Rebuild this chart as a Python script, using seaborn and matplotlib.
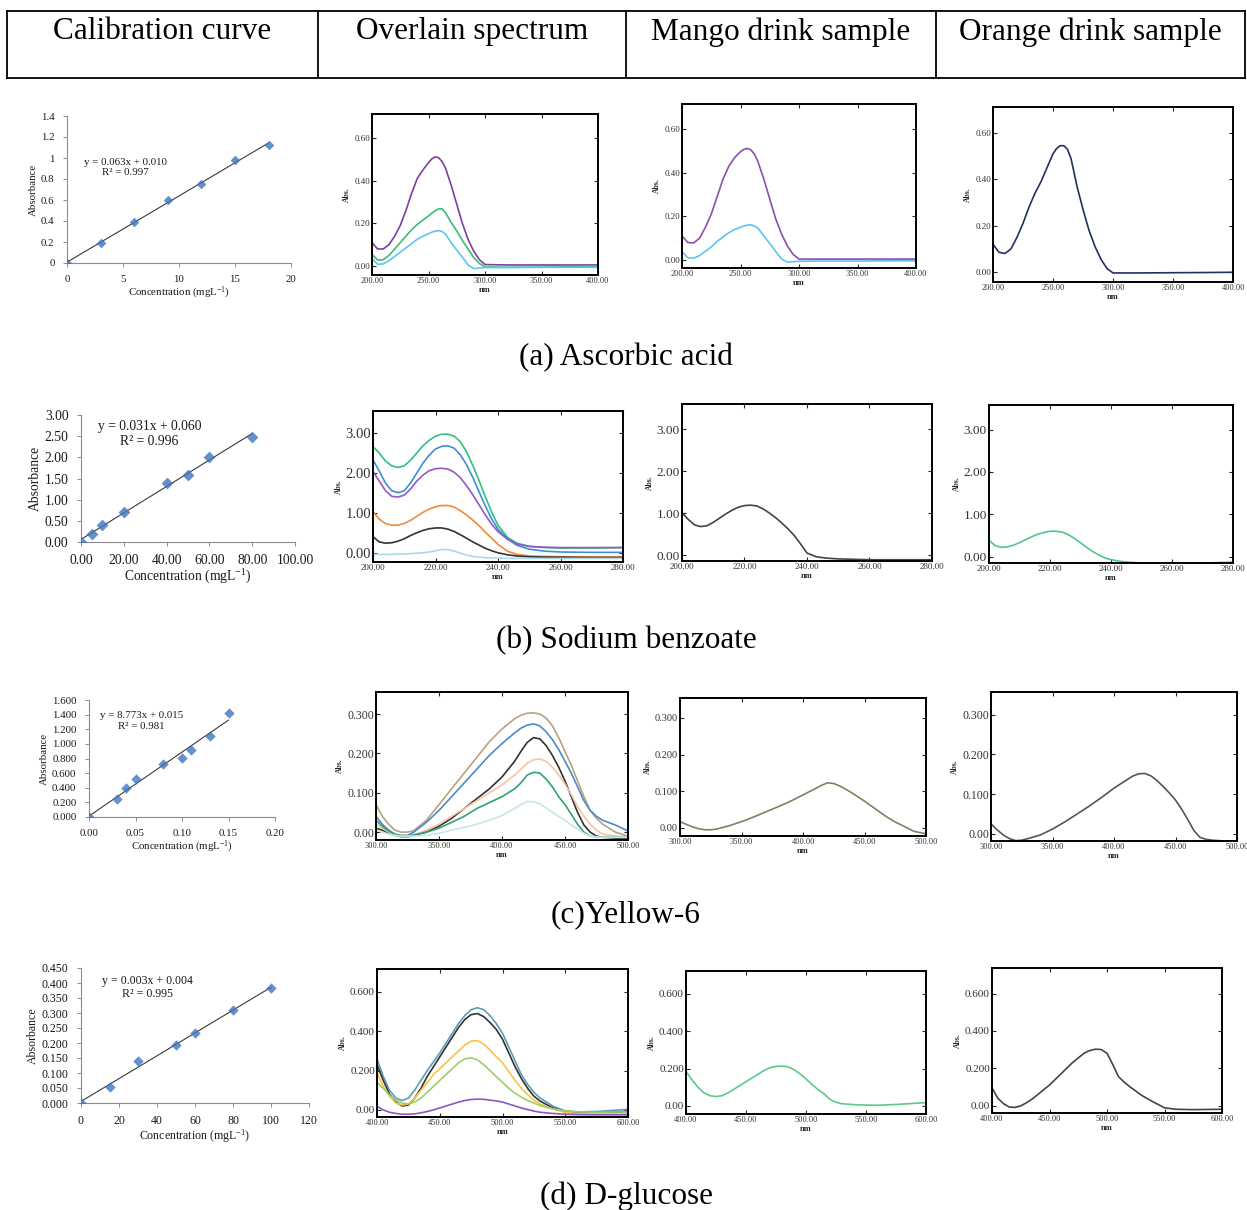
import numpy as np
import pandas as pd
import seaborn as sns
import matplotlib.pyplot as plt

sns.set_style("ticks")
plt.rcParams['font.family'] = ['Liberation Serif', 'DejaVu Serif']
plt.rcParams['mathtext.fontset'] = 'custom'
plt.rcParams['mathtext.rm'] = 'Liberation Serif'
plt.rcParams['mathtext.default'] = 'regular'
plt.rcParams['text.color'] = 'black'

W, H = 1247, 1210

# ---------------- calibration data ----------------
cal_a_x = [0, 3, 6, 9, 12, 15, 18]
cal_a_y = [0.0, 0.19, 0.39, 0.60, 0.75, 0.98, 1.12]
cal_b_x = [0, 5, 10, 20, 40, 50, 60, 80]
cal_b_y = [0.0, 0.20, 0.40, 0.70, 1.40, 1.59, 2.00, 2.49]
cal_c_x = [0, 0.03, 0.04, 0.05, 0.08, 0.10, 0.11, 0.13, 0.15]
cal_c_y = [0.0, 0.25, 0.40, 0.52, 0.72, 0.81, 0.92, 1.11, 1.42]
cal_d_x = [0, 15, 30, 50, 60, 80, 100]
cal_d_y = [0.0, 0.053, 0.140, 0.192, 0.234, 0.310, 0.382]

# ---------------- (a) ascorbic acid spectra ----------------
wl_a = [200, 205, 210, 215, 220, 225, 230, 235, 240, 245, 250, 253, 256, 259, 262,
        265, 270, 275, 280, 285, 290, 295, 300, 320, 350, 380, 400]
a_purple = [0.11, 0.08, 0.08, 0.10, 0.14, 0.19, 0.26, 0.34, 0.41, 0.45, 0.485, 0.503, 0.512, 0.508, 0.49,
            0.46, 0.38, 0.29, 0.20, 0.125, 0.07, 0.03, 0.007, 0.005, 0.005, 0.005, 0.005]
a_green = [0.055, 0.028, 0.03, 0.05, 0.08, 0.11, 0.14, 0.17, 0.195, 0.215, 0.235, 0.248, 0.26, 0.268, 0.268,
           0.25, 0.205, 0.165, 0.12, 0.08, 0.04, 0.012, -0.004, -0.006, -0.005, -0.003, 0.0]
a_cyan = [0.035, 0.008, 0.01, 0.025, 0.045, 0.065, 0.085, 0.105, 0.125, 0.14, 0.152, 0.159, 0.164, 0.166, 0.162,
          0.15, 0.11, 0.075, 0.042, 0.005, -0.012, -0.009, -0.007, -0.007, -0.006, -0.006, -0.006]
a_mango_purple = [0.11, 0.08, 0.078, 0.10, 0.15, 0.21, 0.29, 0.37, 0.43, 0.47, 0.497, 0.508, 0.512, 0.505, 0.485,
                  0.45, 0.37, 0.28, 0.19, 0.12, 0.065, 0.025, 0.004, 0.004, 0.004, 0.004, 0.004]
a_mango_cyan = [0.038, 0.01, 0.008, 0.02, 0.04, 0.06, 0.085, 0.105, 0.125, 0.14, 0.15, 0.156, 0.16, 0.161, 0.156,
                0.145, 0.11, 0.075, 0.04, 0.005, -0.01, -0.008, -0.006, -0.005, -0.005, -0.004, -0.004]
a_orange_navy = [0.12, 0.085, 0.08, 0.10, 0.15, 0.21, 0.28, 0.34, 0.39, 0.45, 0.51, 0.533, 0.545, 0.545, 0.53,
                 0.49, 0.37, 0.27, 0.18, 0.11, 0.055, 0.015, -0.004, -0.004, -0.003, -0.002, -0.001]

# ---------------- (b) sodium benzoate spectra ----------------
wl_b = [200, 202, 204, 206, 208, 210, 212, 214, 216, 218, 220, 222, 224, 226, 228,
        230, 232, 234, 236, 238, 240, 243, 246, 250, 255, 260, 270, 280]
b_green = [2.66, 2.50, 2.30, 2.18, 2.14, 2.18, 2.32, 2.50, 2.68, 2.82, 2.92, 2.97, 2.97, 2.92, 2.78,
           2.52, 2.18, 1.80, 1.40, 1.02, 0.70, 0.40, 0.25, 0.17, 0.14, 0.13, 0.13, 0.14]
b_blue = [2.33, 2.05, 1.75, 1.56, 1.51, 1.56, 1.75, 2.00, 2.25, 2.45, 2.60, 2.67, 2.68, 2.62, 2.45,
          2.20, 1.88, 1.52, 1.17, 0.85, 0.60, 0.36, 0.20, 0.10, 0.05, 0.03, 0.02, 0.02]
b_purple = [2.04, 1.80, 1.56, 1.42, 1.40, 1.45, 1.60, 1.80, 1.95, 2.06, 2.11, 2.12, 2.10, 2.02, 1.88,
            1.68, 1.45, 1.20, 0.95, 0.72, 0.54, 0.35, 0.23, 0.17, 0.15, 0.14, 0.14, 0.14]
b_orange = [1.04, 0.85, 0.74, 0.70, 0.70, 0.74, 0.82, 0.92, 1.02, 1.10, 1.16, 1.19, 1.19, 1.15, 1.06,
            0.95, 0.82, 0.68, 0.52, 0.37, 0.22, 0.05, -0.03, -0.07, -0.08, -0.09, -0.09, -0.09]
b_black = [0.41, 0.28, 0.25, 0.26, 0.30, 0.36, 0.44, 0.51, 0.57, 0.61, 0.63, 0.63, 0.60, 0.54, 0.46,
           0.37, 0.28, 0.20, 0.12, 0.06, 0.01, -0.04, -0.07, -0.09, -0.10, -0.10, -0.11, -0.11]
b_light = [-0.03, -0.03, -0.03, -0.03, -0.02, -0.02, -0.01, 0.0, 0.01, 0.03, 0.06, 0.09, 0.09, 0.05, 0.0,
           -0.05, -0.08, -0.10, -0.11, -0.12, -0.12, -0.13, -0.13, -0.13, -0.13, -0.13, -0.13, -0.13]
b_mango = [1.01, 0.85, 0.72, 0.68, 0.70, 0.78, 0.88, 0.98, 1.07, 1.14, 1.18, 1.19, 1.17, 1.10, 1.00,
           0.89, 0.76, 0.62, 0.46, 0.26, 0.05, -0.04, -0.07, -0.09, -0.10, -0.11, -0.11, -0.11]
b_orange_green = [0.39, 0.26, 0.22, 0.23, 0.27, 0.33, 0.40, 0.47, 0.53, 0.57, 0.60, 0.60, 0.58, 0.52, 0.43,
                  0.33, 0.22, 0.12, 0.04, -0.03, -0.07, -0.11, -0.13, -0.15, -0.16, -0.16, -0.15, -0.13]

# ---------------- (c) yellow-6 spectra ----------------
wl_c = [300, 305, 310, 315, 320, 325, 330, 340, 350, 360, 370, 380, 390, 400, 410, 415, 420,
        425, 430, 435, 440, 445, 450, 455, 460, 465, 470, 475, 480, 490, 500]
c_tan = [0.07, 0.04, 0.02, 0.005, 0.0, 0.0, 0.004, 0.03, 0.07, 0.11, 0.15, 0.19, 0.23, 0.262, 0.288, 0.297, 0.302,
         0.303, 0.30, 0.29, 0.27, 0.24, 0.205, 0.17, 0.13, 0.09, 0.055, 0.035, 0.02, 0.0, -0.01]
c_blue = [0.04, 0.02, 0.005, -0.005, -0.008, -0.008, 0.0, 0.025, 0.055, 0.09, 0.125, 0.16, 0.195, 0.225, 0.252,
          0.264, 0.272, 0.275, 0.27, 0.255, 0.235, 0.21, 0.18, 0.15, 0.115, 0.08, 0.055, 0.04, 0.03, 0.018, 0.003]
c_black = [0.01, 0.005, -0.003, -0.008, -0.012, -0.012, -0.008, 0.0, 0.015, 0.035, 0.06, 0.085, 0.11, 0.14,
           0.18, 0.205, 0.228, 0.24, 0.237, 0.22, 0.195, 0.165, 0.13, 0.09, 0.05, 0.018, 0.0, -0.01, -0.013,
           -0.015, -0.015]
c_peach = [0.02, 0.01, 0.0, -0.008, -0.012, -0.012, -0.008, 0.005, 0.02, 0.04, 0.06, 0.08, 0.10, 0.12, 0.145,
           0.16, 0.175, 0.184, 0.186, 0.18, 0.165, 0.145, 0.122, 0.095, 0.065, 0.04, 0.02, 0.005, -0.005,
           -0.01, -0.012]
c_green = [0.03, 0.015, 0.003, -0.006, -0.01, -0.01, -0.007, 0.0, 0.01, 0.025, 0.04, 0.06, 0.075, 0.09, 0.11,
           0.125, 0.145, 0.152, 0.15, 0.135, 0.115, 0.09, 0.07, 0.045, 0.02, 0.0, -0.01, -0.012, -0.013,
           -0.013, -0.013]
c_cyan = [0.005, 0.0, -0.005, -0.008, -0.01, -0.01, -0.01, -0.008, -0.003, 0.005, 0.012, 0.02, 0.03, 0.042,
          0.06, 0.07, 0.078, 0.077, 0.072, 0.062, 0.05, 0.04, 0.03, 0.018, 0.008, -0.003, -0.01, -0.012,
          -0.013, -0.013, -0.013]
c_mango = [0.017, 0.01, 0.003, -0.002, -0.005, -0.005, -0.003, 0.006, 0.017, 0.03, 0.044, 0.058, 0.073, 0.09,
           0.107, 0.116, 0.123, 0.121, 0.114, 0.105, 0.095, 0.084, 0.073, 0.061, 0.049, 0.037, 0.026, 0.016,
           0.008, -0.009, -0.016]
c_orange = [0.025, 0.01, -0.003, -0.012, -0.017, -0.016, -0.012, -0.003, 0.012, 0.03, 0.05, 0.07, 0.092, 0.115,
            0.135, 0.145, 0.151, 0.152, 0.146, 0.134, 0.119, 0.103, 0.085, 0.062, 0.036, 0.008, -0.009, -0.014,
            -0.016, -0.018, -0.018]

# ---------------- (d) D-glucose spectra ----------------
wl_d = [400, 405, 410, 415, 420, 425, 430, 435, 440, 445, 450, 455, 460, 465, 470, 475, 480,
        485, 490, 495, 500, 505, 510, 515, 520, 525, 530, 540, 550, 560, 575, 600]
d_teal = [0.26, 0.17, 0.10, 0.06, 0.048, 0.06, 0.10, 0.15, 0.20, 0.245, 0.29, 0.34, 0.39, 0.44, 0.48, 0.51, 0.52,
          0.51, 0.48, 0.44, 0.39, 0.32, 0.25, 0.18, 0.13, 0.09, 0.06, 0.02, -0.005, -0.01, -0.008, 0.003]
d_black = [0.23, 0.15, 0.08, 0.04, 0.02, 0.025, 0.06, 0.11, 0.17, 0.22, 0.27, 0.32, 0.37, 0.42, 0.46, 0.485,
           0.49, 0.475, 0.445, 0.41, 0.36, 0.29, 0.22, 0.16, 0.11, 0.07, 0.045, 0.01, -0.01, -0.015, -0.015,
           -0.008]
d_yellow = [0.19, 0.12, 0.07, 0.035, 0.025, 0.03, 0.06, 0.10, 0.14, 0.18, 0.21, 0.24, 0.27, 0.30, 0.33, 0.35,
            0.353, 0.335, 0.305, 0.27, 0.24, 0.195, 0.15, 0.11, 0.078, 0.05, 0.03, 0.005, -0.012, -0.018,
            -0.02, -0.02]
d_green = [0.14, 0.11, 0.075, 0.05, 0.035, 0.03, 0.04, 0.06, 0.09, 0.12, 0.15, 0.18, 0.21, 0.24, 0.26, 0.265,
           0.255, 0.23, 0.20, 0.17, 0.14, 0.11, 0.085, 0.065, 0.048, 0.035, 0.022, 0.005, -0.005, -0.01,
           -0.012, -0.01]
d_purple = [0.018, 0.0, -0.012, -0.018, -0.022, -0.022, -0.02, -0.015, -0.008, 0.0, 0.01, 0.02, 0.03, 0.04,
            0.048, 0.053, 0.055, 0.054, 0.05, 0.046, 0.04, 0.03, 0.02, 0.01, 0.002, -0.006, -0.012, -0.018,
            -0.022, -0.024, -0.025, -0.025]
d_mango = [0.185, 0.14, 0.10, 0.07, 0.055, 0.05, 0.055, 0.07, 0.09, 0.11, 0.13, 0.15, 0.17, 0.19, 0.205, 0.212,
           0.214, 0.21, 0.195, 0.172, 0.145, 0.115, 0.088, 0.065, 0.035, 0.02, 0.012, 0.007, 0.005, 0.004,
           0.008, 0.018]
d_orange = [0.095, 0.04, 0.01, -0.008, -0.01, -0.002, 0.015, 0.035, 0.06, 0.085, 0.11, 0.14, 0.17, 0.20, 0.23,
            0.255, 0.28, 0.295, 0.302, 0.30, 0.28, 0.22, 0.155, 0.125, 0.10, 0.078, 0.055, 0.02, -0.012,
            -0.02, -0.022, -0.02]

headers = ["Calibration curve", "Overlain spectrum", "Mango drink sample", "Orange drink sample"]
captions = ["(a) Ascorbic acid", "(b) Sodium benzoate", "(c)Yellow-6", "(d) D-glucose"]

fig = plt.figure(figsize=(W / 100, H / 100), dpi=100)


def add_ax(x0, y0, x1, y1):
    return fig.add_axes([x0 / W, 1 - y1 / H, (x1 - x0) / W, (y1 - y0) / H])


# header table
hax = add_ax(7, 11, 1245, 78)
hax.set_xlim(7, 1245)
hax.set_ylim(0, 1)
hax.set_xticks([])
hax.set_yticks([])
for s in hax.spines.values():
    s.set_color('black')
    s.set_linewidth(1.3)
for xd in [318, 626, 936]:
    hax.axvline(xd, color='black', lw=1.3)
for xc, txt in zip([162, 472, 781, 1090], headers):
    hax.text(xc, 0.69, txt, ha='center', va='center', fontsize=22.5, color='black')

for yc, txt in zip([358, 641, 915, 1196], captions):
    fig.text(626 / W, 1 - yc / H, txt, ha='center', va='center', fontsize=22.5, color='black')


def cal_plot(box, xs, ys, xlim, ylim, xticks, yticks, xfmt, yfmt, fs, ms, eq, eqpos):
    ax = add_ax(*box)
    sns.regplot(x=xs, y=ys, ax=ax, ci=None, marker='D',
                scatter_kws=dict(color='#3f74bd', s=ms, zorder=3, linewidths=0),
                line_kws=dict(color='#3a3a3a', lw=0.8, zorder=2))
    ax.set_xlim(xlim)
    ax.set_ylim(ylim)
    ax.set_xticks(xticks)
    ax.set_yticks(yticks)
    ax.set_xticklabels([xfmt(t) for t in xticks], fontsize=fs)
    ax.set_yticklabels([yfmt(t) for t in yticks], fontsize=fs)
    sns.despine(ax=ax)
    for s in ['left', 'bottom']:
        ax.spines[s].set_color('#8c8c8c')
        ax.spines[s].set_linewidth(0.8)
    ax.tick_params(direction='out', length=3, width=0.7, color='#8c8c8c', pad=6, labelcolor='#1a1a1a')
    ax.set_xlabel('Concentration (mgL$^{-1}$)', fontsize=fs, labelpad=0, color='#1a1a1a')
    ax.set_ylabel('Absorbance', fontsize=fs, labelpad=2, color='#1a1a1a')
    ax.text(eqpos[0], eqpos[1], eq, transform=ax.transAxes, ha='center', va='center',
            fontsize=fs, color='#1a1a1a', multialignment='center')
    ax.patch.set_alpha(0)
    return ax


cal_plot((67, 116, 291, 263), cal_a_x, cal_a_y, (0, 20), (0, 1.4), [0, 5, 10, 15, 20],
         [0, 0.2, 0.4, 0.6, 0.8, 1.0, 1.2, 1.4], lambda t: f"{t:g}", lambda t: f"{t:g}",
         7.8, 24, "y = 0.063x + 0.010\nR² = 0.997", (0.26, 0.65))
cal_plot((81, 415, 295, 542), cal_b_x, cal_b_y, (0, 100), (0, 3.0), [0, 20, 40, 60, 80, 100],
         [0, 0.5, 1.0, 1.5, 2.0, 2.5, 3.0], lambda t: f"{t:.2f}", lambda t: f"{t:.2f}",
         9.8, 36, "y = 0.031x + 0.060\nR² = 0.996", (0.32, 0.85))
cal_plot((89, 700, 275, 817), cal_c_x, cal_c_y, (0, 0.2), (0, 1.6), [0, 0.05, 0.10, 0.15, 0.20],
         [0, 0.2, 0.4, 0.6, 0.8, 1.0, 1.2, 1.4, 1.6], lambda t: f"{t:.2f}", lambda t: f"{t:.3f}",
         7.8, 28, "y = 8.773x + 0.015\nR² = 0.981", (0.28, 0.82))
cal_plot((81, 968, 309, 1103), cal_d_x, cal_d_y, (0, 120), (0, 0.45), [0, 20, 40, 60, 80, 100, 120],
         [0, 0.05, 0.1, 0.15, 0.2, 0.25, 0.3, 0.35, 0.4, 0.45], lambda t: f"{t:g}", lambda t: f"{t:.3f}",
         8.6, 28, "y = 0.003x + 0.004\nR² = 0.995", (0.29, 0.855))


def spec_plot(box, wl, curves, xlim, ylim, xticks, yticks, yfmt, yfs, xfs=6):
    ax = add_ax(*box)
    for vals, col in curves:
        sns.lineplot(x=wl, y=vals, ax=ax, color=col, lw=1.2)
    ax.set_xlim(xlim)
    ax.set_ylim(ylim)
    ax.set_xticks(xticks)
    ax.set_yticks(yticks)
    ax.set_xticklabels([f"{t:.2f}" for t in xticks], fontsize=xfs)
    ax.set_yticklabels(["0.00" if t == 0 else yfmt.format(t) for t in yticks], fontsize=yfs)
    ax.tick_params(direction='in', top=True, right=True, length=3, width=0.8, pad=1.5,
                   labelcolor='#333333')
    for s in ax.spines.values():
        s.set_color('black')
        s.set_linewidth(1.4)
    ax.set_xlabel('nm', fontsize=6, fontweight='bold', labelpad=1)
    ax.set_ylabel('Abs.', fontsize=5.5, fontweight='bold', labelpad=2)
    return ax


# row (a)
xt_a = [200, 250, 300, 350, 400]
yt_a = [0, 0.2, 0.4, 0.6]
spec_plot((372, 114, 598, 275), wl_a, [(a_purple, '#7e3f9f'), (a_green, '#3dba78'), (a_cyan, '#5cc6f0')],
          (200, 400), (-0.042, 0.713), xt_a, yt_a, "{:.2f}", 6.5)
spec_plot((682, 104, 916, 268), wl_a, [(a_mango_purple, '#8a4fb0'), (a_mango_cyan, '#5cc6f0')],
          (200, 400), (-0.037, 0.716), xt_a, yt_a, "{:.2f}", 6.5)
spec_plot((993, 107, 1233, 282), wl_a, [(a_orange_navy, '#22305e')],
          (200, 400), (-0.043, 0.712), xt_a, yt_a, "{:.2f}", 6.5)

# row (b)
xt_b = [200, 220, 240, 260, 280]
yt_b = [0, 1, 2, 3]
spec_plot((373, 411, 623, 562), wl_b, [(b_green, '#2ec27e'), (b_blue, '#3b8fd9'), (b_purple, '#9457c4'),
                                       (b_orange, '#f08a3c'), (b_black, '#333333'), (b_light, '#a9d9ea')],
          (200, 280), (-0.22, 3.55), xt_b, yt_b, "{:.2f}", 10.5, 6.5)
spec_plot((682, 404, 932, 561), wl_b, [(b_mango, '#444444')],
          (200, 280), (-0.14, 3.6), xt_b, yt_b, "{:.2f}", 9.5, 6.5)
spec_plot((989, 405, 1233, 563), wl_b, [(b_orange_green, '#4cc98a')],
          (200, 280), (-0.15, 3.58), xt_b, yt_b, "{:.2f}", 9.5, 6.5)

# row (c)
xt_c = [300, 350, 400, 450, 500]
yt_c = [0, 0.1, 0.2, 0.3]
spec_plot((376, 692, 628, 840), wl_c, [(c_tan, '#b9a27c'), (c_blue, '#4a8bcc'), (c_black, '#333333'),
                                       (c_peach, '#f7c4a4'), (c_green, '#2fa46e'), (c_cyan, '#c6e6ee')],
          (300, 500), (-0.02, 0.356), xt_c, yt_c, "{:.3f}", 8.5)
spec_plot((680, 698, 926, 836), wl_c, [(c_mango, '#7d8262')],
          (300, 500), (-0.022, 0.354), xt_c, yt_c, "{:.3f}", 7.5)
spec_plot((991, 692, 1237, 841), wl_c, [(c_orange, '#555555')],
          (300, 500), (-0.018, 0.357), xt_c, yt_c, "{:.3f}", 8.5)

# row (d)
xt_d = [400, 450, 500, 550, 600]
yt_d = [0, 0.2, 0.4, 0.6]
spec_plot((377, 969, 628, 1117), wl_d, [(d_teal, '#5d9cb8'), (d_black, '#333333'), (d_yellow, '#f7c443'),
                                        (d_green, '#9ccf6a'), (d_purple, '#9055c5')],
          (400, 600), (-0.036, 0.717), xt_d, yt_d, "{:.3f}", 8)
spec_plot((686, 971, 926, 1114), wl_d, [(d_mango, '#5cc98b')],
          (400, 600), (-0.043, 0.723), xt_d, yt_d, "{:.3f}", 8)
spec_plot((992, 968, 1222, 1113), wl_d, [(d_orange, '#444444')],
          (400, 600), (-0.04, 0.737), xt_d, yt_d, "{:.3f}", 8)

fig.savefig("out.png", dpi=100)
